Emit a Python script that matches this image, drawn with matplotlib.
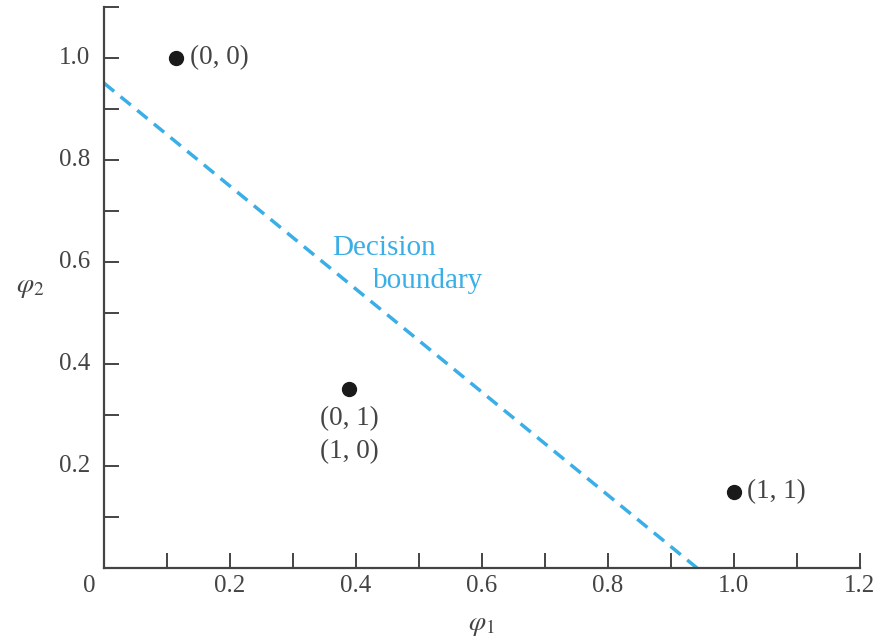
import numpy as np
import matplotlib.pyplot as plt

# hidden-layer outputs for the XOR inputs
phi1 = [0.115, 0.39, 1.0]
phi2 = [1.0, 0.352, 0.149]
point_labels = ["(0, 0)", "(0, 1)\n(1, 0)", "(1, 1)"]

# decision boundary end points
boundary_x = [0.0, 0.942]
boundary_y = [0.951, 0.0]

xtick_labels = ["0", "0.2", "0.4", "0.6", "0.8", "1.0", "1.2"]
ytick_labels = ["0.2", "0.4", "0.6", "0.8", "1.0"]

plt.rcParams.update({
    "font.family": "Liberation Serif",
    "mathtext.fontset": "stix",
    "font.size": 18,
})

grey = "#444444"
blue = "#3aaee6"

fig = plt.figure(figsize=(8.88, 6.39), dpi=100)
ax = fig.add_axes([0.117, 0.111, 0.851, 0.878])

ax.plot(boundary_x, boundary_y, color=blue, lw=2.5, dashes=(3.8, 2.4), clip_on=False)
ax.plot(phi1, phi2, "o", color="#1a1a1a", ms=10, clip_on=False)

# point annotations
ax.text(phi1[0] + 0.022, phi2[0], point_labels[0], ha="left", va="center",
        color=grey, fontsize=19.5)
ax.text(phi1[1], phi2[1] - 0.035, point_labels[1], ha="center", va="top",
        color=grey, fontsize=19.5, linespacing=1.4)
ax.text(phi1[2] + 0.022, phi2[2], point_labels[2], ha="left", va="center",
        color=grey, fontsize=19.5)

ax.text(0.362, 0.628, "Decision", ha="left", va="center", color=blue, fontsize=21)
ax.text(0.428, 0.562, "boundary", ha="left", va="center", color=blue, fontsize=21)

ax.set_xlim(0, 1.2)
ax.set_ylim(0, 1.1)

ax.set_xticks(np.arange(0, 1.21, 0.1))
ax.set_xticklabels([])
ax.set_yticks(np.arange(0, 1.11, 0.1))
ax.set_yticklabels([])
ax.tick_params(direction="in", length=11, width=1.4, color=grey)

# tick labels every 0.2
for i, lab in enumerate(xtick_labels):
    x = 0.2 * i
    if i == 0:
        x = -0.024
    ax.text(x, -0.036, lab, ha="center", va="center", color=grey)
for i, lab in enumerate(ytick_labels):
    ax.text(-0.022, 0.2 * (i + 1), lab, ha="right", va="center", color=grey)

ax.text(0.6, -0.112, r"$\varphi_1$", ha="center", va="center", color=grey, fontsize=20)
ax.text(-0.117, 0.55, r"$\varphi_2$", ha="center", va="center", color=grey, fontsize=20)

for side in ["top", "right"]:
    ax.spines[side].set_visible(False)
for side in ["left", "bottom"]:
    ax.spines[side].set_color(grey)
    ax.spines[side].set_linewidth(1.6)

fig.savefig("out.png", dpi=100)
